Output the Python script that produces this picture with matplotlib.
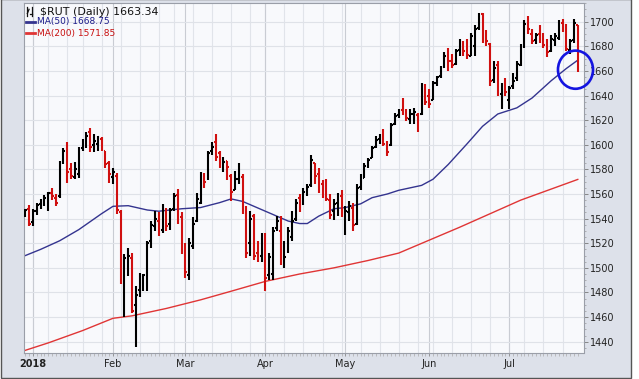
import numpy as np
import pandas as pd
import matplotlib
matplotlib.use("Agg")
import matplotlib.pyplot as plt
from matplotlib.patches import Ellipse, Rectangle
from matplotlib.ticker import MultipleLocator, FixedLocator, NullFormatter

# trading days shown on the chart
holidays = ['2018-01-01', '2018-01-15', '2018-02-19', '2018-03-30', '2018-05-28', '2018-07-04']
dates = pd.bdate_range('2017-12-28', '2018-07-27', freq='C', holidays=holidays)

# daily OHLC
opens = [1543, 1548, 1537, 1546, 1552, 1554, 1556, 1561, 1557, 1558, 1586, 1600, 1580, 1574, 1576,
         1597, 1601, 1610, 1600, 1601, 1605, 1595, 1585, 1574, 1575, 1545, 1465, 1503, 1508, 1470,
         1482, 1488, 1484, 1522, 1534, 1538, 1531, 1545, 1536, 1548, 1559, 1541, 1514, 1494, 1518,
         1538, 1553, 1575, 1573, 1595, 1602, 1593, 1582, 1587, 1575, 1563, 1572, 1574, 1547, 1520,
         1542, 1512, 1510, 1524, 1494, 1495, 1532, 1530, 1508, 1518, 1525, 1540, 1557, 1552, 1563,
         1567, 1585, 1576, 1568, 1565, 1555, 1546, 1553, 1558, 1542, 1545, 1549, 1536, 1566, 1573,
         1583, 1589, 1598, 1605, 1605, 1600, 1600, 1617, 1624, 1628, 1624, 1621, 1625, 1624, 1625,
         1646, 1640, 1636, 1650, 1656, 1663, 1674, 1668, 1666, 1677, 1683, 1675, 1672, 1680, 1695,
         1706, 1691, 1682, 1653, 1665, 1641, 1652, 1636, 1648, 1654, 1665, 1681, 1700, 1690, 1685,
         1690, 1687, 1680, 1676, 1685, 1687, 1699, 1697, 1677, 1685, 1697]
highs = [1548, 1551, 1548, 1553, 1556, 1559, 1562, 1565, 1560, 1587, 1597, 1602, 1585, 1586, 1598,
         1605, 1610, 1614, 1609, 1607, 1606, 1595, 1587, 1581, 1577, 1547, 1511, 1516, 1512, 1485,
         1496, 1495, 1522, 1538, 1546, 1545, 1552, 1549, 1549, 1561, 1564, 1545, 1520, 1524, 1541,
         1561, 1578, 1577, 1595, 1602, 1609, 1595, 1590, 1587, 1576, 1579, 1585, 1576, 1550, 1546,
         1544, 1522, 1528, 1528, 1512, 1533, 1542, 1542, 1522, 1533, 1546, 1556, 1560, 1565, 1568,
         1592, 1585, 1581, 1571, 1572, 1560, 1556, 1561, 1563, 1550, 1554, 1553, 1568, 1576, 1585,
         1589, 1599, 1607, 1609, 1613, 1603, 1618, 1626, 1629, 1638, 1629, 1629, 1630, 1626, 1650,
         1649, 1645, 1652, 1656, 1664, 1675, 1679, 1674, 1678, 1686, 1684, 1686, 1691, 1697, 1707,
         1707, 1693, 1683, 1668, 1668, 1650, 1654, 1648, 1658, 1668, 1682, 1701, 1705, 1694, 1691,
         1697, 1691, 1686, 1689, 1691, 1701, 1702, 1698, 1686, 1702, 1697]
lows = [1541, 1534, 1534, 1543, 1548, 1550, 1546, 1555, 1550, 1557, 1584, 1569, 1572, 1572, 1573,
        1595, 1597, 1594, 1594, 1595, 1595, 1581, 1569, 1568, 1544, 1487, 1460, 1493, 1463, 1436,
        1476, 1481, 1481, 1516, 1530, 1526, 1528, 1530, 1531, 1546, 1536, 1511, 1492, 1490, 1515,
        1537, 1552, 1565, 1571, 1592, 1587, 1581, 1578, 1571, 1554, 1563, 1568, 1544, 1508, 1510,
        1506, 1505, 1505, 1481, 1490, 1490, 1530, 1502, 1500, 1512, 1522, 1538, 1545, 1551, 1558,
        1566, 1568, 1561, 1557, 1554, 1540, 1539, 1542, 1541, 1527, 1538, 1530, 1535, 1563, 1573,
        1581, 1589, 1597, 1601, 1599, 1591, 1599, 1616, 1622, 1624, 1619, 1617, 1617, 1610, 1624,
        1632, 1630, 1636, 1648, 1654, 1662, 1660, 1662, 1665, 1672, 1672, 1670, 1672, 1672, 1693,
        1683, 1680, 1648, 1650, 1640, 1629, 1640, 1629, 1645, 1652, 1664, 1679, 1690, 1682, 1682,
        1683, 1679, 1671, 1675, 1680, 1685, 1692, 1676, 1674, 1683, 1659]
closes = [1547, 1536, 1546, 1551, 1554, 1557, 1561, 1558, 1553, 1585, 1595, 1578, 1575, 1580, 1596,
          1603, 1607, 1598, 1603, 1606, 1598, 1584, 1576, 1578, 1547, 1490, 1508, 1510, 1465, 1478,
          1492, 1494, 1520, 1535, 1540, 1530, 1546, 1534, 1547, 1558, 1538, 1513, 1497, 1520, 1536,
          1556, 1574, 1570, 1593, 1598, 1590, 1584, 1586, 1582, 1562, 1572, 1580, 1548, 1512, 1540,
          1510, 1508, 1525, 1492, 1509, 1530, 1538, 1505, 1509, 1530, 1538, 1553, 1549, 1562, 1566,
          1588, 1575, 1566, 1562, 1556, 1543, 1552, 1555, 1544, 1546, 1550, 1535, 1565, 1572, 1583,
          1588, 1597, 1604, 1606, 1601, 1594, 1616, 1623, 1626, 1625, 1622, 1625, 1627, 1613, 1647,
          1635, 1633, 1650, 1655, 1662, 1672, 1668, 1665, 1676, 1682, 1676, 1673, 1688, 1694, 1705,
          1690, 1684, 1652, 1662, 1643, 1648, 1643, 1646, 1652, 1666, 1680, 1698, 1694, 1684, 1689,
          1686, 1681, 1675, 1686, 1688, 1698, 1695, 1678, 1684, 1699, 1663.34]

# moving averages (bar index, value)
ma50_idx = [0, 4, 9, 14, 20, 23, 27, 32, 35, 41, 46, 51, 54, 57, 63, 69, 72, 74, 77, 81, 84, 88,
            91, 95, 98, 104, 107, 111, 116, 120, 124, 129, 133, 138, 142, 145]
ma50_val = [1510, 1515, 1522, 1531, 1544, 1550, 1550.5, 1547, 1546, 1548, 1549, 1553, 1556, 1554,
            1546, 1538, 1536, 1536, 1542, 1548, 1549, 1552, 1557, 1560, 1563, 1567, 1572, 1584,
            1601, 1615, 1625, 1630, 1638, 1652, 1662, 1668.75]
ma200_idx = [0, 6, 15, 23, 28, 37, 46, 54, 63, 72, 81, 90, 98, 114, 130, 145]
ma200_val = [1433, 1439, 1449, 1459, 1461, 1467, 1474, 1481, 1489, 1495, 1500, 1506, 1512,
             1533, 1555, 1571.85]

month_labels = ['2018', 'Feb', 'Mar', 'Apr', 'May', 'Jun', 'Jul']
y_ticks = list(range(1440, 1701, 20))

x = np.arange(len(dates))
cols = ['#000000'] + ['#d01010' if closes[i] < closes[i - 1] else '#000000' for i in range(1, len(closes))]

fig = plt.figure(figsize=(6.39, 3.79), dpi=100)
fig.patch.set_facecolor('white')
fig.patches.append(Rectangle((1 / 639, 1.5 / 379), 630 / 639, 1, transform=fig.transFigure,
                             facecolor='#dde1ea', edgecolor='#555555', lw=1.0, zorder=-10))

ax = fig.add_axes([24 / 639, 26 / 379, 559.5 / 639, 350 / 379])
ax.set_zorder(5)
ax.set_facecolor('#f8f9fc')

# gridlines: weekly light, month darker
month_starts = [i for i in range(1, len(dates)) if dates[i].month != dates[i - 1].month]
week_starts = [i for i in range(1, len(dates)) if dates[i].weekday() < dates[i - 1].weekday()]
for i in week_starts:
    ax.axvline(i, color='#e1e4ea', lw=0.8, zorder=1)
for i in month_starts:
    ax.axvline(i, color='#c9ccd3', lw=0.8, zorder=1)
for v in y_ticks:
    ax.axhline(v, color='#dfe2e8', lw=0.8, zorder=1)

ax.plot(ma200_idx, ma200_val, color='#e03535', lw=1.0, zorder=2)
ax.plot(ma50_idx, ma50_val, color='#34348f', lw=1.0, zorder=2)

ax.vlines(x, lows, highs, colors=cols, lw=1.5, zorder=3)
ax.hlines(opens, x - 0.45, x, colors=cols, lw=1.5, zorder=3)
ax.hlines(closes, x, x + 0.45, colors=cols, lw=1.5, zorder=3)

ax.add_patch(Ellipse((144.4, 1661), 9.2, 31, fill=False, ec='#1414e0', lw=1.9,
                     clip_on=False, zorder=5))

ax.set_xlim(-0.36, 146.5)
ax.set_ylim(1430.8, 1715.2)

ax.yaxis.tick_right()
ax.yaxis.set_major_locator(FixedLocator(y_ticks))
ax.yaxis.set_minor_locator(MultipleLocator(5))
ax.tick_params(axis='y', which='major', length=3, width=0.6, color='#777777', labelsize=7,
               labelcolor='#222222', pad=2)
ax.tick_params(axis='y', which='minor', length=1.5, width=0.5, color='#999999')

ax.xaxis.set_major_locator(FixedLocator(month_starts))
ax.set_xticklabels(month_labels)
ax.xaxis.set_minor_locator(FixedLocator(x))
ax.xaxis.set_minor_formatter(NullFormatter())
ax.tick_params(axis='x', which='major', length=2, width=0.6, color='#888888', labelsize=7,
               labelcolor='#222222', pad=2)
ax.tick_params(axis='x', which='minor', length=2, width=0.5, color='#aaaaaa')
ax.get_xticklabels()[0].set_fontweight('bold')

for s in ax.spines.values():
    s.set_color('#9a9ea8')
    s.set_linewidth(0.8)

# legend text in the top left corner
ax.text(0.029, 0.974, '$RUT (Daily) 1663.34', transform=ax.transAxes, fontsize=7.9,
        color='#111111', va='center', ha='left')
ax.plot([0.006, 0.009], [0.970, 0.982], transform=ax.transAxes, color='#111111', lw=0.9)
ax.plot([0.006, 0.006], [0.962, 0.988], transform=ax.transAxes, color='#111111', lw=0.9)
ax.plot([0.014, 0.014], [0.962, 0.988], transform=ax.transAxes, color='#111111', lw=0.9)
ax.plot([0.011, 0.014], [0.968, 0.968], transform=ax.transAxes, color='#111111', lw=0.9)
ax.plot([0.004, 0.020], [0.946, 0.946], transform=ax.transAxes, color='#34348f', lw=2.0)
ax.text(0.023, 0.946, 'MA(50) 1668.75', transform=ax.transAxes, fontsize=6.5,
        color='#1c1c8a', va='center', ha='left')
ax.plot([0.004, 0.020], [0.914, 0.914], transform=ax.transAxes, color='#e03535', lw=2.0)
ax.text(0.023, 0.914, 'MA(200) 1571.85', transform=ax.transAxes, fontsize=6.5,
        color='#c81010', va='center', ha='left')

fig.savefig('out.png', dpi=100, facecolor=fig.get_facecolor())
